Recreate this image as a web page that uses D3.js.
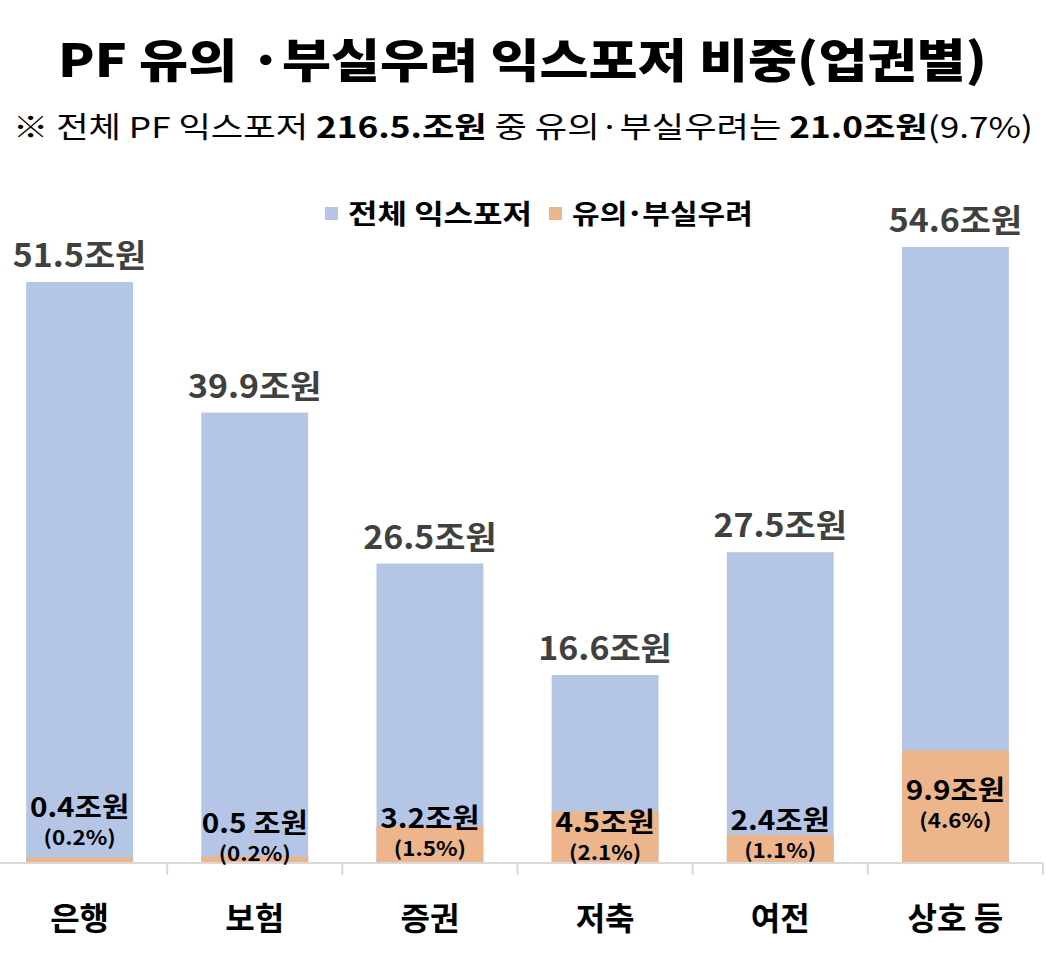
<!DOCTYPE html>
<html><head><meta charset="utf-8">
<script src="https://cdnjs.cloudflare.com/ajax/libs/d3/7.8.5/d3.min.js"></script>
<style>
html,body{margin:0;padding:0;background:#fff;}
svg{display:block;font-family:"Noto Sans CJK KR","Noto Sans",sans-serif;}
</style></head>
<body>
<svg id="chart" width="1046" height="970"></svg>
<script>
// ---- data ----
const categories = ["은행", "보험", "증권", "저축", "여전", "상호 등"];
const totalExposure = [51.5, 39.9, 26.5, 16.6, 27.5, 54.6];
const riskExposure = [0.4, 0.5, 3.2, 4.5, 2.4, 9.9];
const totalLabels = ["51.5조원", "39.9조원", "26.5조원", "16.6조원", "27.5조원", "54.6조원"];
const riskLabels = ["0.4조원", "0.5 조원", "3.2조원", "4.5조원", "2.4조원", "9.9조원"];
const riskShares = ["(0.2%)", "(0.2%)", "(1.5%)", "(2.1%)", "(1.1%)", "(4.6%)"];
const seriesNames = ["전체 익스포저", "유의˙부실우려"];

// ---- layout ----
const colors = ["#B4C5E5", "#EDB58B"];
const baseY = 862;
const innerLabelY = [807, 823, 818, 822, 820, 790]; // centers of inner value labels (px)
const svg = d3.select("#chart");

// horizontally stretch text around its anchor x (Malgun-like wide glyphs)
function stretch(sel, sx) {
  sel.each(function () {
    const t = d3.select(this);
    const cx = +t.attr("x");
    t.attr("transform", `translate(${cx},0) scale(${sx},1) translate(${-cx},0)`);
  });
}
function fitWidth(sel, w) {
  const bw = sel.node().getBBox().width;
  stretch(sel, w / bw);
}

const x = d3.scaleBand().domain(categories).range([-8, 1043]).paddingInner(0.39).paddingOuter(0.195);
const y = d3.scaleLinear().domain([0, 54.6]).range([baseY, 247]);

// title
const title = svg.append("text").attr("x", 522.5).attr("y", 77).attr("text-anchor", "middle")
  .attr("font-size", 46).attr("font-weight", 900).attr("fill", "#000")
  .text("PF 유의 ·부실우려 익스포저 비중(업권별)");
fitWidth(title, 929);

// subtitle
const sub = svg.append("text").attr("x", 523).attr("y", 138).attr("text-anchor", "middle")
  .attr("font-size", 29).attr("fill", "#000");
[["※ 전체 PF 익스포저 ", 400], ["216.5.조원", 700], [" 중 유의·부실우려는 ", 400], ["21.0조원", 700], ["(9.7%)", 400]]
  .forEach(([t, w]) => sub.append("tspan").attr("font-weight", w).text(t));
fitWidth(sub, 1020);

// axis
const axisG = svg.append("g").attr("transform", `translate(0,${baseY + 1})`);
const axis = d3.axisBottom(x).tickSize(0).tickFormat("");
axisG.call(axis);
axisG.select(".domain").attr("stroke", "#D9D9D9").attr("stroke-width", 2);
const step = x.step();
const bounds = d3.range(categories.length + 1).map(i => x.range()[0] + i * step);
axisG.selectAll("line.bound").data(bounds.slice(1)).join("line").attr("class", "bound")
  .attr("x1", d => d).attr("x2", d => d).attr("y1", 0).attr("y2", 12)
  .attr("stroke", "#D9D9D9").attr("stroke-width", 2);
axisG.select(".domain").attr("d", `M${x.range()[0]},0H${x.range()[1]}`);

// bars
svg.append("g").selectAll("rect").data(categories).join("rect")
  .attr("x", d => x(d)).attr("width", x.bandwidth())
  .attr("y", (d, i) => y(totalExposure[i])).attr("height", (d, i) => baseY - y(totalExposure[i]))
  .attr("fill", colors[0]);
svg.append("g").selectAll("rect").data(categories).join("rect")
  .attr("x", d => x(d)).attr("width", x.bandwidth())
  .attr("y", (d, i) => y(riskExposure[i])).attr("height", (d, i) => baseY - y(riskExposure[i]))
  .attr("fill", colors[1]);

// total labels
const tl = svg.append("g").selectAll("text").data(categories).join("text")
  .attr("x", d => x(d) + x.bandwidth() / 2).attr("y", (d, i) => y(totalExposure[i]) - 15)
  .attr("text-anchor", "middle").attr("font-size", 32).attr("font-weight", 700).attr("fill", "#404040")
  .text((d, i) => totalLabels[i]);
stretch(tl, 1.06);

// inner labels
const inner = svg.append("g").selectAll("g").data(categories).join("g");
const il = inner.append("text")
  .attr("x", d => x(d) + x.bandwidth() / 2).attr("y", (d, i) => innerLabelY[i] + 10)
  .attr("text-anchor", "middle").attr("font-size", 27).attr("font-weight", 700).attr("fill", "#000")
  .text((d, i) => riskLabels[i]);
stretch(il, 1.1);
const pl = inner.append("text")
  .attr("x", d => x(d) + x.bandwidth() / 2).attr("y", (d, i) => innerLabelY[i] + 38)
  .attr("text-anchor", "middle").attr("font-size", 20).attr("font-weight", 700).attr("fill", "#000")
  .text((d, i) => riskShares[i]);
stretch(pl, 1.12);

// category labels
svg.append("g").selectAll("text").data(categories).join("text")
  .attr("x", d => x(d) + x.bandwidth() / 2).attr("y", 930)
  .attr("text-anchor", "middle").attr("font-size", 32).attr("font-weight", 700).attr("fill", "#000")
  .text(d => d);

// legend
const legend = svg.append("g");
const legX = [325, 549];
const legW = [184, 181];
seriesNames.forEach((n, i) => {
  legend.append("rect").attr("x", legX[i]).attr("y", 207).attr("width", 13).attr("height", 13).attr("fill", colors[i]);
  const t = legend.append("text").attr("x", legX[i] + 23).attr("y", 224).attr("font-size", 27).attr("font-weight", 700)
    .attr("fill", "#000").text(n);
  fitWidth(t, legW[i]);
});
</script>
</body></html>
